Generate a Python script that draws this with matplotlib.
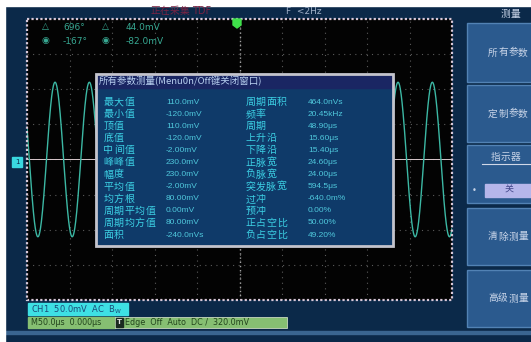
import numpy as np
import matplotlib.pyplot as plt
from matplotlib.patches import Rectangle, Polygon

plt.rcParams['font.family'] = ['Noto Sans CJK SC', 'DejaVu Sans']
CJK = 'Noto Sans CJK SC'
LAT = 'DejaVu Sans'

# measurement table (left and right columns)
left_labels = ["最大值", "最小值", "顶值", "底值", "中间值", "峰峰值", "幅度",
               "平均值", "均方根", "周期平均值", "周期均方值", "面积"]
left_values = ["110.0mV", "-120.0mV", "110.0mV", "-120.0mV", "-2.00mV", "230.0mV",
               "230.0mV", "-2.00mV", "80.00mV", "0.00mV", "80.00mV", "-240.0nVs"]
right_labels = ["周期面积", "频率", "周期", "上升沿", "下降沿", "正脉宽", "负脉宽",
                "突发脉宽", "过冲", "预冲", "正占空比", "负占空比"]
right_values = ["464.0nVs", "20.45kHz", "48.90μs", "15.60μs", "15.40μs", "24.60μs",
                "24.00μs", "594.5μs", "-640.0m%", "0.00%", "50.00%", "49.20%"]

# cursor readouts
cursor_rows = [("△", "696°", "△", "44.0mV"), ("◉", "-167°", "◉", "-82.0mV")]

# right soft-key menu
menu_title = "测量"
menu_items = ["所有参数", "定制参数", "指示器", "清除测量", "高级测量"]
menu_option = "关"

# channel / timebase / trigger
ch_label = "CH1  50.0mV  AC  B$_\\mathregular{W}$"
time_label = "M50.0μs  0.000μs"
trig_label = "Edge  Off  Auto  DC /  320.0mV"

# signal on screen
volts_per_div = 50.0       # mV
time_per_div = 50.0        # us
wave_amplitude = 110.0     # mV
wave_period = 40.35        # us
wave_first_peak = -217.0   # us

W, H = 531, 342
fig = plt.figure(figsize=(W / 100, H / 100), dpi=100)

bg = fig.add_axes([0, 0, 1, 1])
bg.set_xlim(0, W)
bg.set_ylim(H, 0)
bg.axis('off')


def box(ax, x, y, w, h, **kw):
    ax.add_patch(Rectangle((x, y), w, h, **kw))


def cjk(ax, x, y, s, step, **kw):
    # one glyph per cell so every label keeps a fixed pitch
    for i, ch in enumerate(s):
        ax.text(x + step * (i + 0.5), y, ch, ha='center', va='center', family=CJK, **kw)


box(bg, 0, 0, W, H, color='#0b2949', zorder=0)
box(bg, 0, 0, W, 6, color='white', zorder=5)
box(bg, 0, 0, 5, H, color='white', zorder=5)
box(bg, 0, 331, W, 3, color='#3a6590', zorder=1)

# screen
sx0, sy0, sx1, sy1 = 27, 19, 452, 300
scr = fig.add_axes([sx0 / W, 1 - sy1 / H, (sx1 - sx0) / W, (sy1 - sy0) / H])
scr.set_facecolor('#030303')
scr.set_xlim(-5 * time_per_div, 5 * time_per_div)
scr.set_ylim(-4 * volts_per_div, 4 * volts_per_div)
scr.set_xticks([])
scr.set_yticks([])
for s in scr.spines.values():
    s.set_visible(False)

for k in range(-4, 5):
    scr.axvline(k * time_per_div, color='#5a5a5a', lw=0.8, ls=(0, (1, 4)), zorder=1)
for k in range(-3, 4):
    scr.axhline(k * volts_per_div, color='#5a5a5a', lw=0.8, ls=(0, (1, 4)), zorder=1)
scr.axvline(0, color='#a0a0a0', lw=1.0, ls=(0, (1, 2)), zorder=1)
scr.axhline(0, color='#d8c8cc', lw=0.7, zorder=2)

t = np.linspace(-5 * time_per_div, 5 * time_per_div, 2000)
v = wave_amplitude * np.cos(2 * np.pi * (t - wave_first_peak) / wave_period)
scr.plot(t, v, color='#3cb8a4', lw=1.0, zorder=3)

# overlay for everything drawn on top of the screen
ov = fig.add_axes([0, 0, 1, 1], zorder=5)
ov.set_xlim(0, W)
ov.set_ylim(H, 0)
ov.axis('off')
ov.patch.set_alpha(0)

box(ov, sx0, sy0, sx1 - sx0, sy1 - sy0, fill=False, ec='#d8c8d8', lw=1.6,
    ls=(0, (1, 1)))

# trigger position marker and channel marker
ov.add_patch(Polygon([[233, 19], [241, 19], [241, 25], [237, 28], [233, 25]],
                     closed=True, color='#3fe04a'))
box(ov, 12, 157, 10, 10, color='#3ad8e0')
ov.text(17, 162.5, "1", color='#0b2949', fontsize=5, ha='center', va='center',
        family=LAT)

# header texts
cjk(ov, 150, 11, "正在采集", 10, color='#7a2444', fontsize=7)
ov.text(192, 11, "TDF", color='#7a2444', fontsize=7, va='center', family=LAT)
ov.text(286, 12, "F  <2Hz", color='#9fb0c8', fontsize=6.5, va='center', family=LAT)

# cursor readouts
for i, (s1, a, s2, b) in enumerate(cursor_rows):
    y = 27 + i * 14
    ov.text(45, y, s1, color='#37a892', fontsize=6.5, ha='center', va='center', family=LAT)
    ov.text(63, y, a, color='#37a892', fontsize=6.5, va='center', family=LAT)
    ov.text(105, y, s2, color='#37a892', fontsize=6.5, ha='center', va='center', family=LAT)
    ov.text(126, y, b, color='#37a892', fontsize=6.5, va='center', family=LAT)

# measurement window
bx0, by0, bx1, by1 = 96, 74, 393, 246
box(ov, bx0, by0, bx1 - bx0, by1 - by0, color='#0f3a69', zorder=2)
box(ov, bx0, by0, bx1 - bx0, 14, color='#1a2663', zorder=3)
box(ov, bx0, by0, bx1 - bx0, by1 - by0, fill=False, ec='#c4c4cc', lw=2, zorder=4)
ov.text(99, 81.5, "所有参数测量(Menu0n/Off键关闭窗口)", color='#b8d0f0',
        fontsize=6.8, va='center', family=[CJK, LAT], zorder=5)

for i in range(len(left_labels)):
    y = 102 + i * 12.1
    cjk(ov, 103, y, left_labels[i], 10.5, color='#3cd0e4', fontsize=7.2, zorder=5)
    ov.text(166, y, left_values[i], color='#4fc8dc', fontsize=6, va='center',
            family='Liberation Sans', zorder=5)
    cjk(ov, 245, y, right_labels[i], 10.5, color='#3cd0e4', fontsize=7.2, zorder=5)
    ov.text(308, y, right_values[i], color='#4fc8dc', fontsize=6, va='center',
            family='Liberation Sans', zorder=5)

# bottom status bars
box(ov, 28, 303, 100, 12, color='#3ee0e4')
ov.text(31, 309.5, ch_label, color='#1b4a78', fontsize=6, va='center', family=LAT)
box(ov, 28, 317, 87, 11, color='#86bf72')
ov.text(31, 322.5, time_label, color='#22441c', fontsize=5.8, va='center', family=LAT)
box(ov, 115, 317, 172, 11, color='#86bf72', ec='#c8d8c0', lw=0.6)
box(ov, 116, 318, 7, 9, color='#1a2a20')
ov.text(119.5, 322.5, "T", color='#e0e0e0', fontsize=5, ha='center', va='center',
        family=LAT, fontweight='bold')
ov.text(125, 322.5, trig_label, color='#22441c', fontsize=5.8, va='center', family=LAT)

# right menu
cjk(ov, 500, 14, menu_title, 10, color='#c8d4e8', fontsize=7)
spans = [(23, 82), (85, 142), (145, 203), (208, 265), (270, 327)]
for (ya, yb), name in zip(spans, menu_items):
    box(ov, 467, ya, 70, yb - ya, color='#2b5a8e', ec='#5282b4', lw=1)
    if name == "指示器":
        cjk(ov, 491, 157, name, 10, color='#c8d4e8', fontsize=7)
        ov.plot([482, 530], [164, 164], color='#d0d8e8', lw=0.8)
        box(ov, 485, 184, 50, 13, color='#b6b6ea')
        cjk(ov, 504, 190.5, menu_option, 10, color='#404488', fontsize=6.5)
        ov.text(474, 190.5, "•", color='#c8d4e8', fontsize=6, ha='center', va='center',
                family=LAT)
    else:
        cjk(ov, 488, (ya + yb) / 2, name, 10, color='#c8d4e8', fontsize=7)

fig.savefig('out.png', dpi=100)
